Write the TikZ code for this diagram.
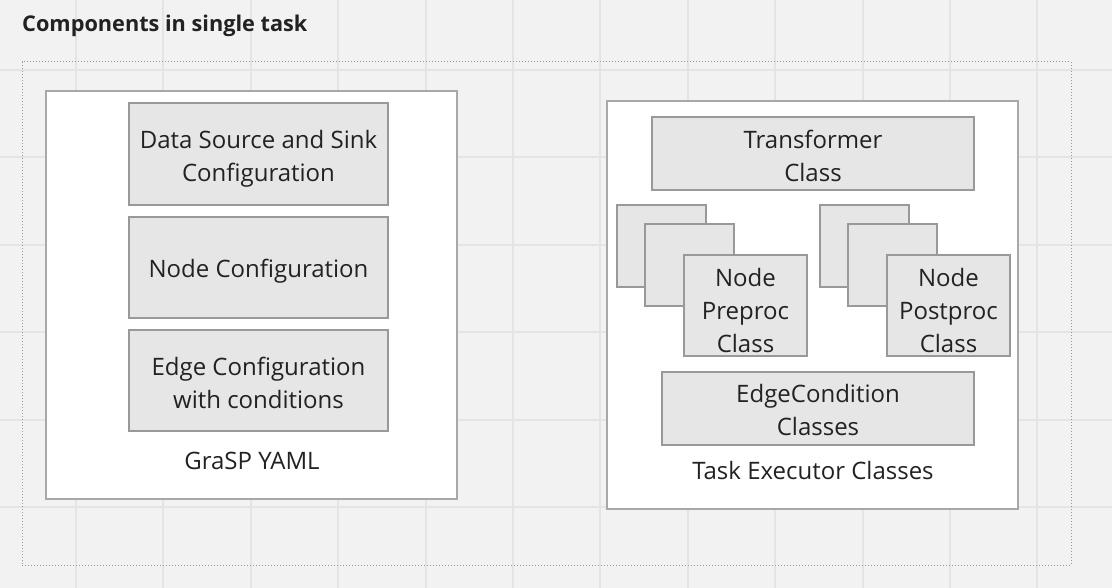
\documentclass[tikz,border=0pt]{standalone}
\usepackage{fontspec}
\setmainfont{Open Sans}
\definecolor{bgcol}{HTML}{F2F2F2}
\definecolor{gridcol}{HTML}{E4E4E4}
\definecolor{boxfill}{HTML}{E6E6E6}
\definecolor{boxborder}{HTML}{999999}
\definecolor{contborder}{HTML}{A8A8A8}
\definecolor{txtcol}{HTML}{222222}
\begin{document}
\begin{tikzpicture}[x=1pt,y=-1pt,
  box/.style={draw=boxborder, fill=boxfill, line width=1.3pt, inner sep=0pt},
  boxtext/.style={font=\fontsize{24}{33}\selectfont, text=txtcol, align=center, inner sep=0pt},
  container/.style={draw=contborder, fill=white, line width=1.3pt, inner sep=0pt},
  lbl/.style={font=\fontsize{24}{33}\selectfont, text=txtcol, inner sep=0pt},
  gridline/.style={draw=gridcol, line width=2pt}]
\fill[bgcol] (0,0) rectangle (1112,588);
\useasboundingbox (0,0) rectangle (1112,588);
\foreach \i in {0,...,11} {\draw[gridline] (76+87.4*\i,0) -- (76+87.4*\i,588);}
\foreach \j in {0,...,5} {\draw[gridline] (0,70+87.4*\j) -- (1112,70+87.4*\j);}
% title
\node[anchor=base west, inner sep=0pt, font=\fontsize{21.7}{26}\selectfont\bfseries, text=txtcol] (title) at (22,32) {Components in single task};
% dotted frame
\node[draw=boxborder, dotted, line width=1pt, minimum width=1049pt, minimum height=503pt, inner sep=0pt] (frame) at (546.5,313.5) {};
% left container
\node[container, minimum width=411pt, minimum height=408pt] (yaml) at (251.5,295) {};
\node[box, minimum width=259pt, minimum height=102pt,
  label={[boxtext, yshift=-5pt]center:{Data Source and Sink\\Configuration}}] (dss) at (258.5,154) {};
\node[box, minimum width=259pt, minimum height=101pt,
  label={[boxtext, yshift=-4pt]center:{Node Configuration}}] (nc) at (258.5,267.5) {};
\node[box, minimum width=259pt, minimum height=101pt,
  label={[boxtext, yshift=-2pt]center:{Edge Configuration\\with conditions}}] (ec) at (258.5,380.5) {};
\node[lbl] (yamllbl) at (252,461) {GraSP YAML};
% right container
\node[container, minimum width=411pt, minimum height=408pt] (exec) at (812.5,305) {};
\node[box, minimum width=322pt, minimum height=73pt,
  label={[boxtext, yshift=-2pt]center:{Transformer\\Class}}] (tc) at (813,153.5) {};
\node[box, minimum width=89pt, minimum height=82pt] (pre1) at (661.5,246) {};
\node[box, minimum width=89pt, minimum height=82pt] (pre2) at (689.5,265) {};
\node[box, minimum width=123pt, minimum height=101pt,
  label={[boxtext, yshift=-5pt]center:{Node\\Preproc\\Class}}] (pre3) at (745.5,305.5) {};
\node[box, minimum width=89pt, minimum height=82pt] (post1) at (864.5,246) {};
\node[box, minimum width=89pt, minimum height=82pt] (post2) at (892.5,265) {};
\node[box, minimum width=123pt, minimum height=101pt,
  label={[boxtext, yshift=-5pt]center:{Node\\Postproc\\Class}}] (post3) at (948.5,305.5) {};
\node[box, minimum width=312pt, minimum height=73pt,
  label={[boxtext, yshift=-1pt]center:{EdgeCondition\\Classes}}] (edc) at (818,408.5) {};
\node[lbl] (execlbl) at (813,470) {Task Executor Classes};
\end{tikzpicture}
\end{document}
